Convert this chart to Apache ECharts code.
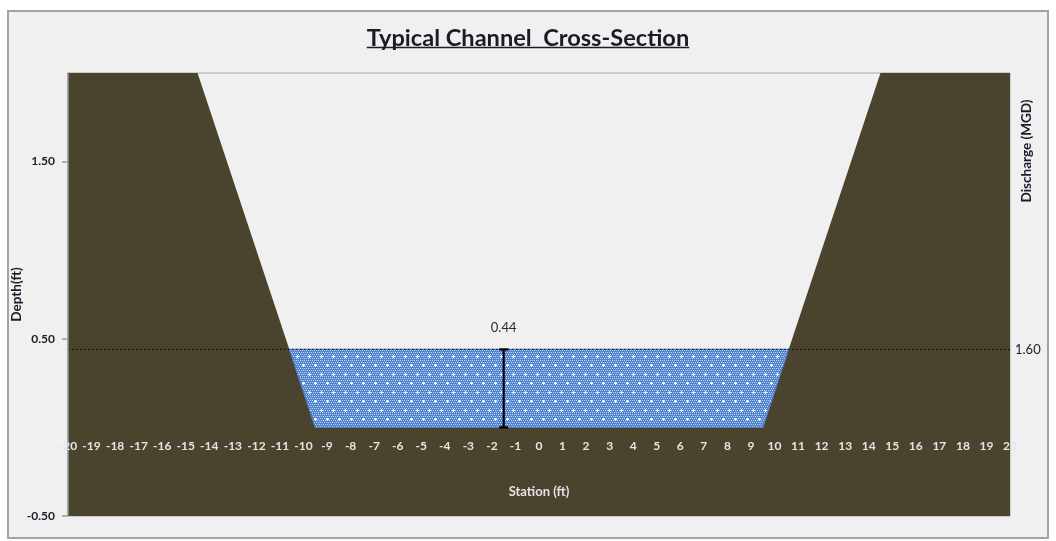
<!DOCTYPE html>
<html>
<head>
<meta charset="utf-8">
<script src="https://cdn.jsdelivr.net/npm/echarts@6/dist/echarts.min.js"></script>
<style>
  html, body { margin: 0; padding: 0; background: #ffffff; }
  #chart { width: 1056px; height: 541px; }
</style>
</head>
<body>
<div id="chart"></div>
<script>
// Channel geometry (station in ft, elevation in ft)
const groundStation = [-20, -14.5, -9.5, 9.5, 14.5, 20];
const groundElevation = [2.0, 2.0, 0, 0, 2.0, 2.0];

// Wetted area of the channel at the design flow
const waterStation = [-10.6, -9.5, 9.5, 10.6];
const waterElevation = [0.44, 0, 0, 0.44];

// Flow results
const flowDepth = 0.44;
const depthMarkerStation = -1.5;
const discharge = 1.60;

// Axis settings
const stationRange = [-20, 20];
const depthRange = [-0.5, 2.0];
const depthTicks = [-0.5, 0.5, 1.5];

const TITLE = 'Typical Channel  Cross-Section';
const FONT = 'Lato, "Liberation Sans", sans-serif';
const TITLE_SIZE = 23.6;

const GRID = { left: 68, top: 73, width: 942, height: 443 };

const zip = (xs, ys) => xs.map((x, i) => [x, ys[i]]);
const groundData = zip(groundStation, groundElevation);
const waterData = zip(waterStation, waterElevation);

// The station axis runs along zero depth
const stationAxisOffset = -GRID.height * (0 - depthRange[0]) / (depthRange[1] - depthRange[0]);

// Dotted blue fill with small white crosses
function makeWaterPattern() {
  const w = 12, h = 18;
  const c = document.createElement('canvas');
  c.width = w; c.height = h;
  const ctx = c.getContext('2d');
  ctx.fillStyle = '#5084d2';
  ctx.fillRect(0, 0, w, h);
  ctx.fillStyle = 'rgba(255,255,255,0.65)';
  for (let y = 0; y < h; y += 2) {
    for (let x = (y % 4 === 0 ? 0 : 1); x < w; x += 2) ctx.fillRect(x, y, 1, 1);
  }
  ctx.fillStyle = '#ffffff';
  const cross = (cx, cy) => {
    ctx.fillRect(cx - 1, cy, 3, 1);
    ctx.fillRect(cx, cy - 1, 1, 3);
  };
  cross(3, 5);
  cross(9, 14);
  return { image: c, repeat: 'repeat' };
}
const waterPattern = makeWaterPattern();

// Width of the title text, for its underline
const measure = document.createElement('canvas').getContext('2d');
measure.font = 'bold ' + TITLE_SIZE + 'px ' + FONT;
const titleWidth = measure.measureText(TITLE).width;
const titleCenterX = 528;

const chart = echarts.init(document.getElementById('chart'), null, { renderer: 'canvas' });

const clear = 'rgba(0,0,0,0)';
const dark = '#1b1b2a';
const light = '#e4e4ea';

const option = {
  animation: false,
  backgroundColor: '#ffffff',
  title: {
    text: TITLE,
    left: 'center',
    top: 21,
    textStyle: { fontFamily: FONT, fontWeight: 'bold', fontSize: TITLE_SIZE, color: dark }
  },
  graphic: [
    {
      type: 'rect', z: -10, silent: true,
      shape: { x: 8, y: 11, width: 1040, height: 527 },
      style: { fill: '#f0f0f0', stroke: '#a3a3a3', lineWidth: 2 }
    },
    {
      type: 'line', z: 10, silent: true,
      shape: { x1: titleCenterX - titleWidth / 2, y1: 47.5, x2: titleCenterX + titleWidth / 2, y2: 47.5 },
      style: { stroke: dark, lineWidth: 1.6 }
    },
    {
      type: 'text', z: 10, silent: true,
      x: 1027, y: 151, rotation: Math.PI / 2,
      style: {
        text: 'Discharge (MGD)', fill: dark,
        font: 'bold 13.5px ' + FONT, align: 'center', verticalAlign: 'middle'
      }
    }
  ],
  grid: {
    left: GRID.left, top: GRID.top, width: GRID.width, height: GRID.height,
    containLabel: false,
    outerBoundsMode: 'none',
    show: true, borderColor: '#a8a8a8', borderWidth: 1, backgroundColor: 'transparent'
  },
  xAxis: {
    type: 'value',
    min: stationRange[0], max: stationRange[1], interval: 1,
    position: 'bottom',
    offset: stationAxisOffset,
    z: 10,
    axisLine: { show: true, onZero: false, lineStyle: { color: clear } },
    axisTick: { show: false },
    splitLine: { show: false },
    axisLabel: {
      color: light, fontFamily: FONT, fontWeight: 'bold', fontSize: 12, margin: 13
    },
    name: 'Station (ft)',
    nameLocation: 'middle',
    nameGap: 58,
    nameTextStyle: { color: light, fontFamily: FONT, fontWeight: 'bold', fontSize: 13 }
  },
  yAxis: [
    {
      type: 'value',
      min: depthRange[0], max: depthRange[1],
      position: 'left',
      z: 10,
      axisLine: { show: true, onZero: false, lineStyle: { color: '#9a9a9a', width: 1.5 } },
      axisTick: { show: true, length: 6, customValues: depthTicks, lineStyle: { color: '#9a9a9a', width: 1.5 } },
      splitLine: { show: false },
      axisLabel: {
        customValues: depthTicks,
        formatter: v => v.toFixed(2),
        color: dark, fontFamily: FONT, fontWeight: 'bold', fontSize: 12, margin: 13
      },
      name: 'Depth(ft)',
      nameLocation: 'middle',
      nameRotate: 90,
      nameGap: 44,
      nameMoveOverlap: false,
      nameTextStyle: { color: dark, fontFamily: FONT, fontWeight: 'bold', fontSize: 13.5 }
    },
    {
      type: 'value',
      min: depthRange[0], max: depthRange[1],
      position: 'right',
      z: 10,
      axisLine: { show: false, onZero: false },
      axisTick: { show: false },
      splitLine: { show: false },
      axisLabel: {
        customValues: [flowDepth],
        formatter: () => discharge.toFixed(2),
        color: dark, fontFamily: FONT, fontSize: 13, margin: 5
      }
    }
  ],
  series: [
    {
      name: 'Ground',
      type: 'line',
      data: groundData,
      symbol: 'none',
      z: 1,
      lineStyle: { width: 0 },
      areaStyle: { color: '#4a432d', opacity: 1, origin: 'start' }
    },
    {
      name: 'Water',
      type: 'custom',
      z: 2,
      data: waterData,
      renderItem: (params, api) => {
        if (params.dataIndex !== 0) return null;
        const pts = waterData.map(p => api.coord(p));
        return {
          type: 'polygon',
          shape: { points: pts },
          style: { fill: waterPattern, stroke: '#4a7cc4', lineWidth: 1.2 }
        };
      }
    },
    {
      name: 'Water Surface',
      type: 'line',
      z: 3,
      data: [[stationRange[0], flowDepth], [stationRange[1], flowDepth]],
      symbol: 'none',
      lineStyle: { color: '#000000', width: 1, type: [1.5, 2.5] }
    },
    {
      name: 'Flow Depth',
      type: 'custom',
      z: 4,
      data: [[depthMarkerStation, flowDepth]],
      renderItem: (params, api) => {
        const x = api.value(0), d = api.value(1);
        const top = api.coord([x, d]);
        const bot = api.coord([x, 0]);
        const cap = 4.5;
        const stroke = { stroke: '#000000', lineWidth: 2.2 };
        return {
          type: 'group',
          children: [
            { type: 'line', shape: { x1: top[0], y1: top[1], x2: bot[0], y2: bot[1] }, style: stroke },
            { type: 'line', shape: { x1: top[0] - cap, y1: top[1], x2: top[0] + cap, y2: top[1] }, style: stroke },
            { type: 'line', shape: { x1: bot[0] - cap, y1: bot[1], x2: bot[0] + cap, y2: bot[1] }, style: stroke },
            {
              type: 'text',
              x: top[0], y: top[1] - 22,
              style: {
                text: d.toFixed(2), fill: '#2a2a2a',
                font: '13px ' + FONT, align: 'center', verticalAlign: 'middle'
              }
            }
          ]
        };
      }
    }
  ]
};

chart.setOption(option);
</script>
</body>
</html>
